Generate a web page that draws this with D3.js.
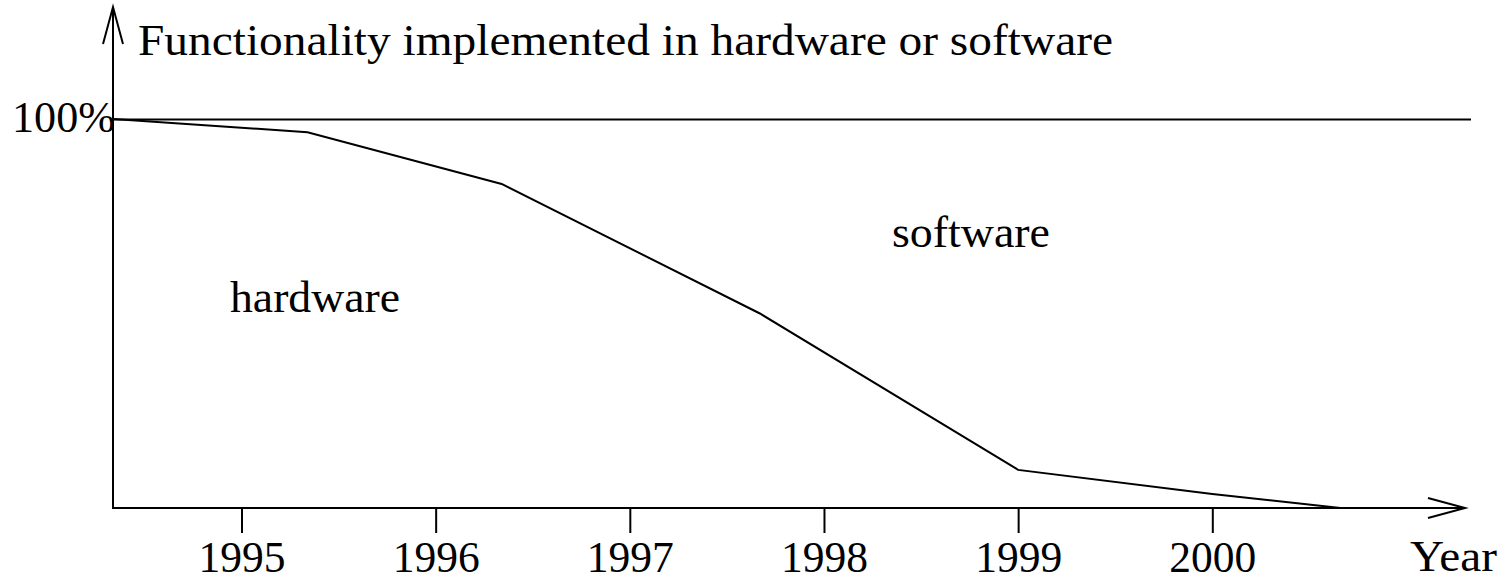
<!DOCTYPE html>
<html>
<head>
<meta charset="utf-8">
<script src="https://cdn.jsdelivr.net/npm/d3@7"></script>
<style>
  body { margin: 0; background: #fff; }
  svg text { font-family: "Liberation Serif", "Times New Roman", serif; fill: #000; }
</style>
</head>
<body>
<svg id="chart"></svg>
<script>
    //Data
    let years = [1994.34, 1995.34, 1996.34, 1997.67, 1999, 2000, 2000.66];
    let hardwareShare = [100, 96.6, 83.3, 50, 9.8, 3.6, 0];
    let tickYears = [1995, 1996, 1997, 1998, 1999, 2000];
    let tickPercents = [100];

    //Canvas
    let width = 1507;
    let height = 577;
    let origin = {x: 113, y: 508};
    let fontSize = '45px';

    let svg = d3.select('#chart')
        .attr('width', width)
        .attr('height', height);

    //Scales
    let xScale = d3.scaleLinear()
        .domain([1995, 2000])
        .range([241.5, 1212.3]);
    let yScale = d3.scaleLinear()
        .domain([0, 100])
        .range([origin.y, 119]);

    //x axis ticks (domain line drawn separately with arrow)
    let gX = svg.append('g')
        .attr('transform', 'translate(0,' + origin.y + ')')
        .call(d3.axisBottom(xScale)
            .tickValues(tickYears)
            .tickFormat(d3.format('d'))
            .tickSize(25)
            .tickPadding(7));
    gX.select('.domain').remove();
    gX.selectAll('line').attr('stroke', '#000').attr('stroke-width', 2);
    gX.selectAll('text')
        .style('font-size', fontSize)
        .attr('fill', '#000')
        .attr('textLength', 87)
        .attr('lengthAdjust', 'spacingAndGlyphs');

    //y axis: only the 100% tick, drawn across the whole plot
    let gY = svg.append('g')
        .attr('transform', 'translate(' + origin.x + ',0)')
        .call(d3.axisLeft(yScale)
            .tickValues(tickPercents)
            .tickFormat(d => d + '%')
            .tickSize(-(1471 - origin.x))
            .tickPadding(-2));
    gY.select('.domain').remove();
    gY.selectAll('line').attr('stroke', '#000').attr('stroke-width', 2);
    gY.selectAll('text')
        .style('font-size', fontSize)
        .attr('fill', '#000')
        .attr('dy', '0.28em')
        .attr('textLength', 103)
        .attr('lengthAdjust', 'spacingAndGlyphs');

    //Axes with arrows
    let axisPath = d3.path();
    axisPath.moveTo(origin.x, 7);
    axisPath.lineTo(origin.x, origin.y);
    axisPath.lineTo(1465, origin.y);
    svg.append('path')
        .attr('d', axisPath.toString())
        .attr('fill', 'none')
        .attr('stroke', '#000')
        .attr('stroke-width', 2);

    svg.append('path')
        .attr('d', 'M103,44L' + origin.x + ',7L123,44')
        .attr('fill', 'none')
        .attr('stroke', '#000')
        .attr('stroke-width', 2);
    svg.append('path')
        .attr('d', 'M1428,498L1465,' + origin.y + 'L1428,518')
        .attr('fill', 'none')
        .attr('stroke', '#000')
        .attr('stroke-width', 2);

    //Hardware share line
    let line = d3.line()
        .x((d, i) => xScale(years[i]))
        .y(d => yScale(d));
    svg.append('path')
        .datum(hardwareShare)
        .attr('d', line)
        .attr('fill', 'none')
        .attr('stroke', '#000')
        .attr('stroke-width', 2);

    //Labels
    let addLabel = (x, y, w, txt) => {
        svg.append('text')
            .attr('x', x)
            .attr('y', y)
            .style('font-size', fontSize)
            .attr('textLength', w)
            .attr('lengthAdjust', 'spacingAndGlyphs')
            .text(txt);
    }
    addLabel(138, 55, 975, 'Functionality implemented in hardware or software');
    addLabel(1410, 571, 87, 'Year');
    addLabel(230, 312, 170, 'hardware');
    addLabel(892, 247, 158, 'software');
</script>
</body>
</html>
